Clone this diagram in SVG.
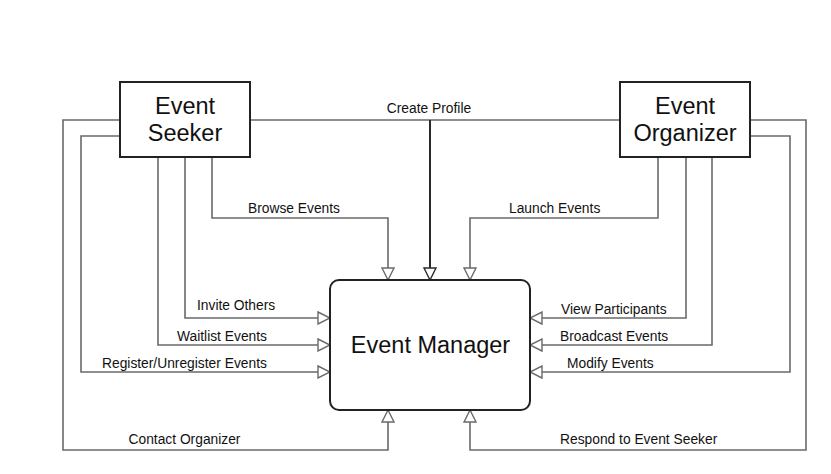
<svg xmlns="http://www.w3.org/2000/svg" width="831" height="474" viewBox="0 0 831 474">
<style>
.bg{fill:#fff}
.box{fill:#fff;stroke:#222;stroke-width:2}
.big{font-family:"Liberation Sans",Arial,sans-serif;font-size:23.5px;fill:#111;text-anchor:middle}
.lbl{font-family:"Liberation Sans",Arial,sans-serif;font-size:13.8px;fill:#111}
.c{fill:none;stroke:#6a6a6a;stroke-width:1.6}
.dk{stroke:#2a2a2a;stroke-width:2}
</style>
<defs>
<marker id="arr" viewBox="0 0 14 14" refX="13" refY="7" markerWidth="14" markerHeight="14" markerUnits="userSpaceOnUse" orient="auto">
<path d="M1,1 L13,7 L1,13 Z" fill="#fff" stroke="#6a6a6a" stroke-width="1.4"/>
</marker>
<marker id="arrdk" viewBox="0 0 14 14" refX="13" refY="7" markerWidth="14" markerHeight="14" markerUnits="userSpaceOnUse" orient="auto">
<path d="M1,1 L13,7 L1,13 Z" fill="#fff" stroke="#2a2a2a" stroke-width="1.4"/>
</marker>
</defs>
<rect class="bg" x="0" y="0" width="831" height="474"/>
<g id="connectors">
<path class="c" d="M250,120 H620"/>
<path class="c dk" d="M430,120 V280" marker-end="url(#arrdk)"/>
<path class="c" d="M120,120 H63 V450 H388 V410" marker-end="url(#arr)"/>
<path class="c" d="M120,136 H81 V372 H330" marker-end="url(#arr)"/>
<path class="c" d="M158,157 V345 H330" marker-end="url(#arr)"/>
<path class="c" d="M185,157 V318 H330" marker-end="url(#arr)"/>
<path class="c" d="M212,157 V218 H388 V280" marker-end="url(#arr)"/>
<path class="c" d="M658,157 V218 H470 V280" marker-end="url(#arr)"/>
<path class="c" d="M686,157 V318 H530" marker-end="url(#arr)"/>
<path class="c" d="M712,157 V345 H530" marker-end="url(#arr)"/>
<path class="c" d="M750,136 H790 V372 H530" marker-end="url(#arr)"/>
<path class="c" d="M750,120 H806 V450 H470 V410" marker-end="url(#arr)"/>
<text class="lbl" x="429" y="112.5" text-anchor="middle">Create Profile</text>
<text class="lbl" x="248" y="213">Browse Events</text>
<text class="lbl" x="509" y="212.5">Launch Events</text>
<text class="lbl" x="197" y="309.5">Invite Others</text>
<text class="lbl" x="177" y="341">Waitlist Events</text>
<text class="lbl" x="102" y="368">Register/Unregister Events</text>
<text class="lbl" x="128.5" y="444">Contact Organizer</text>
<text class="lbl" x="561" y="313.5">View Participants</text>
<text class="lbl" x="560" y="341">Broadcast Events</text>
<text class="lbl" x="567" y="368">Modify Events</text>
<text class="lbl" x="560" y="444">Respond to Event Seeker</text>
</g>
<g id="event-seeker">
<rect class="box" x="120" y="82" width="130" height="75"/>
<text class="big" x="185" y="114">Event</text>
<text class="big" x="185" y="141">Seeker</text>
</g>
<g id="event-organizer">
<rect class="box" x="620" y="82" width="130" height="75"/>
<text class="big" x="685" y="114">Event</text>
<text class="big" x="685" y="141">Organizer</text>
</g>
<g id="event-manager">
<rect class="box" x="330" y="280" width="200" height="130" rx="9" ry="9"/>
<text class="big" x="430.5" y="353">Event Manager</text>
</g>
</svg>
